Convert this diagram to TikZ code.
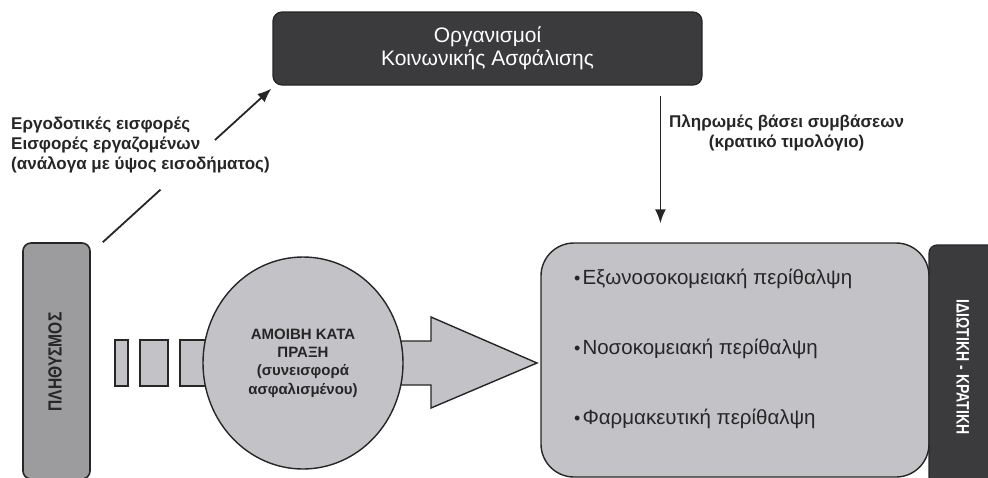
\documentclass[tikz,border=0pt]{standalone}
\usepackage{fontspec}
\setmainfont{Liberation Sans}
\usetikzlibrary{arrows.meta,calc,shapes.geometric}

\definecolor{boxdark}{HTML}{3B3B3D}
\definecolor{boxmid}{HTML}{9C9C9E}
\definecolor{boxlight}{HTML}{C3C3C7}
\definecolor{edge}{HTML}{262626}

\tikzset{
  darkbox/.style={draw=edge, line width=1.2pt, fill=boxdark, rounded corners=9pt,
    text=white, align=center, inner sep=0pt},
  popbox/.style={draw=edge, line width=1.6pt, fill=boxmid, rounded corners=8pt, inner sep=0pt},
  carebox/.style={draw=edge, line width=1.4pt, fill=boxlight, rounded corners=33pt, inner sep=0pt},
  stub/.style={draw=edge, line width=1.4pt, fill=boxlight},
  fee/.style={ellipse, draw=edge, line width=1.4pt, fill=boxlight, inner sep=0pt,
    align=center, font=\bfseries\fontsize{15}{18.3}\selectfont, text=edge},
  flow/.style={line width=1.8pt, draw=edge},
  flowtip/.style={flow, -{Latex[length=14pt,width=11pt]}},
  lbl/.style={font=\bfseries\fontsize{17}{20}\selectfont, text=edge, inner sep=0pt},
  item/.style={anchor=west, font=\fontsize{20.5}{22}\selectfont, text=edge, inner sep=0pt}
}

\newcommand{\itemdot}{{\fontsize{18}{18}\selectfont •}\hspace{2pt}}

\begin{document}
\begin{tikzpicture}[x=1pt,y=-1pt]
  \clip (0,0) rectangle (988,477);
  \fill[white] (0,0) rectangle (988,477);

  % funds at the top
  \node[darkbox, minimum width=429pt, minimum height=73pt,
        font=\fontsize{21}{23}\selectfont] (org) at (487.5,48.5)
        {Οργανισμοί\\Κοινωνικής Ασφάλισης};

  % population column
  \node[popbox, minimum width=67pt, minimum height=236pt] (pop) at (56.5,361) {};
  \node[rotate=90, font=\bfseries\fontsize{19}{19}\selectfont, text=edge]
        (popname) at (55,362) {\scalebox{0.82}[1]{ΠΛΗΘΥΣΜΟΣ}};

  % care providers
  \node[carebox, minimum width=388pt, minimum height=234pt] (care) at (735,360) {};
  \node[darkbox, rounded corners=8pt, minimum width=80pt, minimum height=240pt]
        (sector) at (969,365) {};
  \node[rotate=-90, font=\bfseries\fontsize{18}{18}\selectfont, text=white]
        (sectorname) at (963,367) {\scalebox{0.78}[1]{ΙΔΙΩΤΙΚΗ - ΚΡΑΤΙΚΗ}};

  \node[item] (c1) at (574,279) {\itemdot Εξωνοσοκομειακή περίθαλψη};
  \node[item] (c2) at (574,349) {\itemdot Νοσοκομειακή περίθαλψη};
  \node[item] (c3) at (574,419) {\itemdot Φαρμακευτική περίθαλψη};

  % fee-for-service flow
  \node[stub, minimum width=13pt, minimum height=46pt, inner sep=0pt] (s1) at (121.5,363) {};
  \node[stub, minimum width=28pt, minimum height=46pt, inner sep=0pt] (s2) at (154,363) {};
  \node[stub, minimum width=35pt, minimum height=46pt, inner sep=0pt] (s3) at (197.5,363) {};
  \draw[stub] (380,341) -- (431,341) -- (431,317) -- (537,363)
              -- (431,408) -- (431,385) -- (380,385) -- cycle;
  \node[fee, minimum width=200pt, minimum height=212pt] (fee) at (303,363)
        {ΑΜΟΙΒΗ ΚΑΤΑ\\ΠΡΑΞΗ\\(συνεισφορά\\ασφαλισμένου)};

  % contributions: population -> funds, interrupted by its label
  \coordinate (cfrom) at ($(pop.north east)+(12,0)$);
  \coordinate (cto) at ($(org.south west)+(-1,3)$);
  \draw[flow] (cfrom) -- ($(cfrom)!0.342!(cto)$);
  \draw[flowtip] ($(cfrom)!0.665!(cto)$) -- (cto);
  \node[lbl, anchor=north west, align=left] (contrib) at (11,117)
        {Εργοδοτικές εισφορές\\Εισφορές εργαζομένων\\(ανάλογα με ύψος εισοδήματος)};

  % payments: funds -> providers
  \coordinate (pfrom) at ($(org.south west)+(388,10)$);
  \draw[flowtip] (pfrom) -- (pfrom |- care.north) [shorten >=19pt];
  \node[lbl, anchor=north west, align=center] (pay) at (669,115)
        {Πληρωμές βάσει συμβάσεων\\(κρατικό τιμολόγιο)};
\end{tikzpicture}
\end{document}
